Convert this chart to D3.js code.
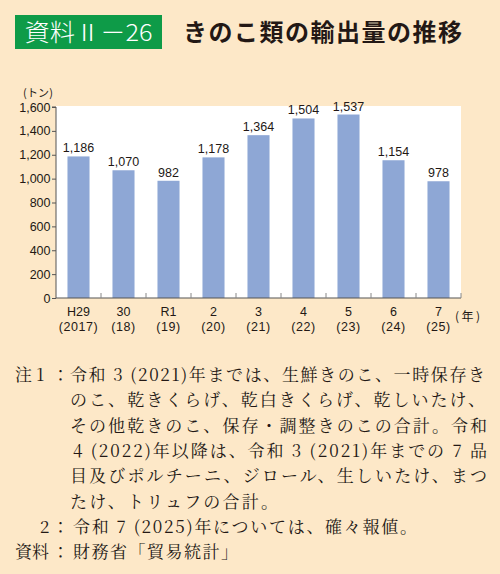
<!DOCTYPE html>
<html><head><meta charset="utf-8">
<script src="https://cdn.jsdelivr.net/npm/d3@7"></script>
<style>
html,body{margin:0;padding:0;background:#FDE8C8;}
svg{display:block;}
</style></head>
<body>
<svg id="c" width="500" height="574"></svg>
<script>
const categories = ["H29","30","R1","2","3","4","5","6","7"];
const subLabels = ["(2017)","(18)","(19)","(20)","(21)","(22)","(23)","(24)","(25)"];
const values = [1186,1070,982,1178,1364,1504,1537,1154,978];
const yTicks = [0,200,400,600,800,1000,1200,1400,1600];
const titleBadge = "資料Ⅱ－26";
const titleText = "きのこ類の輸出量の推移";
const yUnit = "(トン)";
const xUnit = "(年)";
const notes = [
  {lead:"注 1", leadX:15, text:"令和 3 (2021)年までは、生鮮きのこ、一時保存き", x:70, w:415},
  {lead:"", leadX:0, text:"のこ、乾きくらげ、乾白きくらげ、乾しいたけ、", x:70, w:415},
  {lead:"", leadX:0, text:"その他乾きのこ、保存・調整きのこの合計。令和", x:70, w:417},
  {lead:"", leadX:0, text:"4 (2022)年以降は、令和 3 (2021)年までの 7 品", x:73, w:414},
  {lead:"", leadX:0, text:"目及びポルチーニ、ジロール、生しいたけ、まつ", x:70, w:417},
  {lead:"", leadX:0, text:"たけ、トリュフの合計。", x:70, w:208},
  {lead:"2", leadX:40, text:"令和 7 (2025)年については、確々報値。", x:73, w:344},
  {lead:"資料", leadX:15, text:"財務省「貿易統計」", x:73, w:165}
];

const svg = d3.select("#c");
const bg = "#FDE8C8", dark = "#231815";
svg.append("rect").attr("width",500).attr("height",574).attr("fill",bg);

// title
svg.append("rect").attr("x",15).attr("y",15).attr("width",147).attr("height",34).attr("fill","#0E9B48");
svg.append("text").attr("x",88.5).attr("y",40.5).attr("text-anchor","middle")
  .attr("font-family","'Noto Sans CJK JP', sans-serif").attr("font-size",23.5).attr("font-weight",300)
  .attr("fill","#fff").attr("textLength",128).attr("lengthAdjust","spacingAndGlyphs").text(titleBadge);
svg.append("text").attr("x",183).attr("y",41)
  .attr("font-family","'Noto Sans CJK JP', sans-serif").attr("font-size",24).attr("font-weight",700)
  .attr("fill",dark).attr("textLength",279).attr("lengthAdjust","spacing").text(titleText);

// chart
const L = 56, R = 461, T = 107, B = 298;
const x = d3.scaleBand().domain(categories).range([L,R]).paddingInner(0.51).paddingOuter(0.255);
const bandStep = (R-L)/categories.length;
const y = d3.scaleLinear().domain([0,1600]).range([B,T]);

svg.append("rect").attr("x",L).attr("y",T-1).attr("width",R-L).attr("height",B-T+1).attr("fill","#fff");

svg.selectAll("rect.bar").data(values).join("rect").attr("class","bar")
  .attr("x",(d,i)=>x(categories[i])).attr("width",x.bandwidth())
  .attr("y",d=>y(d)).attr("height",d=>B-y(d)).attr("fill","#8EA7D5");

const numFont = "'Liberation Sans', Arial, sans-serif";
svg.selectAll("text.val").data(values).join("text").attr("class","val")
  .attr("x",(d,i)=>x(categories[i])+x.bandwidth()/2).attr("y",d=>y(d)-4)
  .attr("text-anchor","middle").attr("font-family",numFont).attr("font-size",12.5)
  .attr("fill",dark).text(d=>d3.format(",")(d));

// y axis
const yAxis = svg.append("g").attr("transform",`translate(${L},0)`)
  .call(d3.axisLeft(y).tickValues(yTicks).tickFormat(d3.format(",")).tickSize(4).tickPadding(1.5));
yAxis.select(".domain").attr("stroke","#555").attr("d",`M-4,${T}H0V${B}`);
yAxis.selectAll(".tick line").attr("stroke","#555");
yAxis.selectAll(".tick text").attr("font-family",numFont).attr("font-size",12.5).attr("fill",dark);

// x axis
const xAxisG = svg.append("g");
xAxisG.append("line").attr("x1",L).attr("x2",R).attr("y1",B).attr("y2",B).attr("stroke","#555").attr("stroke-width",1.2);
const sepPos = categories.map((c,i)=>L+bandStep*(i+1));
xAxisG.selectAll("line.sep").data(sepPos).join("line").attr("class","sep")
  .attr("x1",d=>d).attr("x2",d=>d).attr("y1",B).attr("y2",B-5).attr("stroke","#888");
svg.selectAll("text.xl").data(categories).join("text").attr("class","xl")
  .attr("x",d=>x(d)+x.bandwidth()/2).attr("y",316).attr("text-anchor","middle")
  .attr("font-family",numFont).attr("font-size",12.5).attr("fill",dark).text(d=>d);
svg.selectAll("text.xs").data(subLabels).join("text").attr("class","xs")
  .attr("x",(d,i)=>x(categories[i])+x.bandwidth()/2).attr("y",331).attr("text-anchor","middle")
  .attr("font-family",numFont).attr("font-size",12.5).attr("letter-spacing",0.6).attr("fill",dark).text(d=>d);

svg.append("text").attr("x",23).attr("y",97).attr("font-family","'Noto Sans CJK JP', sans-serif")
  .attr("font-size",11).attr("fill",dark).attr("textLength",30).attr("lengthAdjust","spacing").text(yUnit);
svg.append("text").attr("x",455).attr("y",321).attr("font-family","'Noto Sans CJK JP', sans-serif")
  .attr("font-size",12).attr("fill",dark).attr("textLength",25).attr("lengthAdjust","spacing").text(xUnit);

// notes
const noteFont = "'Noto Serif CJK JP','Noto Sans CJK JP', serif";
const ng = svg.append("g").attr("font-family",noteFont).attr("font-size",17).attr("fill",dark);
notes.forEach((n,i)=>{
  const by = 381 + i*25.3;
  if(n.lead){
    ng.append("text").attr("x",n.leadX).attr("y",by).attr("xml:space","preserve").text(n.lead);
    ng.append("text").attr("x",52).attr("y",by).text("：");
  }
  ng.append("text").attr("x",n.x).attr("y",by).attr("textLength",n.w).attr("lengthAdjust","spacing").text(n.text);
});
</script>
</body></html>
